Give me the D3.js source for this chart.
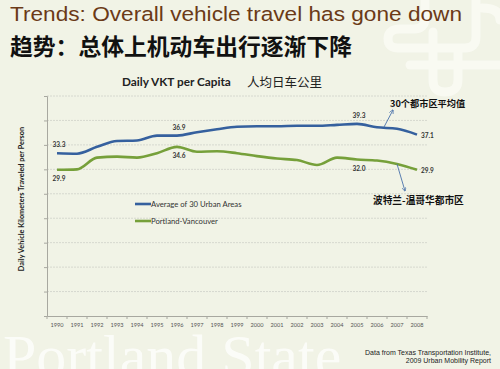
<!DOCTYPE html>
<html><head><meta charset="utf-8">
<script src="https://cdn.jsdelivr.net/npm/d3@7"></script>
<style>
html,body{margin:0;padding:0;background:#f1f3e6;}
svg{display:block;}
</style></head>
<body>
<script>
const years = ["1990","1991","1992","1993","1994","1995","1996","1997","1998","1999","2000","2001","2002","2003","2004","2005","2006","2007","2008"];
const avg30 = [33.3,33.2,34.6,35.8,35.9,36.9,36.9,37.6,38.2,38.7,38.8,38.8,38.9,38.9,39.1,39.3,38.6,38.3,37.1];
const portland = [29.9,30.0,32.4,32.6,32.4,33.3,34.6,33.6,33.7,33.3,32.7,32.2,31.9,30.9,32.4,32.0,31.8,31.1,29.9];
const yTicks = [0,5,10,15,20,25,30,35,40,45];
const avgLabels = [{i:0,t:"33.3"},{i:6,t:"36.9"},{i:15,t:"39.3"},{i:18,t:"37.1"}];
const portLabels = [{i:0,t:"29.9"},{i:6,t:"34.6"},{i:15,t:"32.0"},{i:18,t:"29.9"}];

const W=500,H=369;
const svg=d3.select("body").append("svg").attr("width",W).attr("height",H);
svg.append("rect").attr("width",W).attr("height",H).attr("fill","#f1f3e6");

// PSU logo watermark (top right)
const logo=svg.append("g").attr("fill","none").attr("stroke","#fafbf4").attr("stroke-width",9).attr("opacity",0.9).attr("stroke-linecap","round");
logo.append("path").attr("d","M425,-5 L425,18 Q425,29 414,29 L400,29 Q388,29 388,39 Q388,48 398,48 L465,48 Q476,48 476,37 L476,-5");
logo.append("path").attr("d","M433,32 L433,80 Q433,92 445,92 Q458,92 458,80 L458,50");
logo.append("path").attr("d","M410,65 L505,65");
logo.append("path").attr("d","M482,8 Q500,8 500,20");

// Portland State watermark
svg.append("text").attr("x",3).attr("y",376).attr("font-family","Liberation Serif, serif")
  .attr("font-size",60).attr("fill","#fdfdfa").attr("opacity",0.9).text("Portland State");

// Titles
svg.append("text").attr("x",10).attr("y",21).attr("font-family","Liberation Sans, Arial, sans-serif")
  .attr("font-size",20.5).attr("fill","#6b3a17").attr("textLength",452).attr("lengthAdjust","spacingAndGlyphs")
  .text("Trends: Overall vehicle travel has gone down");
svg.append("text").attr("x",10).attr("y",55).attr("font-family","Noto Sans CJK SC, sans-serif")
  .attr("font-size",22.8).attr("font-weight","bold").attr("fill","#111").text("趋势：总体上机动车出行逐渐下降");

const L=47,R=427,T=96,B=316;
const x=d3.scaleBand().domain(years).range([L,R]);
const cx=d=>x(d)+x.bandwidth()/2;
const y=d3.scaleLinear().domain([0,45]).range([B,T]);

// gridlines
svg.append("g").selectAll("line").data(yTicks.filter(d=>d>0)).join("line")
  .attr("x1",L).attr("x2",R).attr("y1",d=>y(d)).attr("y2",d=>y(d))
  .attr("stroke","#d6d8cf").attr("stroke-width",1).attr("stroke-dasharray","2,1");

// y axis
const ya=svg.append("g").attr("transform",`translate(${L},0)`)
  .call(d3.axisLeft(y).tickValues(yTicks).tickSize(3).tickFormat(""));
ya.select(".domain").attr("stroke","#a8a8a0");
ya.selectAll(".tick line").attr("stroke","#a8a8a0");

// x axis
const xa=svg.append("g").attr("transform",`translate(0,${B})`)
  .call(d3.axisBottom(x).tickSize(0).tickPadding(7));
xa.select(".domain").attr("stroke","#a8a8a0");
xa.selectAll("text").attr("font-family","Lato, sans-serif").attr("font-size",5.6).attr("fill","#555");
svg.append("g").selectAll("line").data(years.concat(["end"])).join("line")
  .attr("x1",(d,i)=>L+i*x.step()).attr("x2",(d,i)=>L+i*x.step())
  .attr("y1",B).attr("y2",B+3).attr("stroke","#a8a8a0");

// chart titles
svg.append("text").attr("x",122).attr("y",86).attr("font-family","Lato, sans-serif").attr("font-weight","bold")
  .attr("font-size",11.8).attr("fill","#222").text("Daily VKT per Capita");
svg.append("text").attr("x",247).attr("y",87).attr("font-family","Noto Sans CJK SC, sans-serif")
  .attr("font-size",12.5).attr("fill","#222").text("人均日车公里");

// y axis title
svg.append("text").attr("transform","translate(24,199) rotate(-90)").attr("text-anchor","middle")
  .attr("font-family","Lato, sans-serif").attr("font-weight","bold").attr("font-size",7.3).attr("fill","#222")
  .text("Daily Vehicle Kilometers Traveled per Person");

// lines
const line=d3.line().x((d,i)=>cx(years[i])).y(d=>y(d)).curve(d3.curveMonotoneX);
svg.append("path").datum(avg30).attr("d",line).attr("fill","none").attr("stroke","#35609e").attr("stroke-width",2.6);
svg.append("path").datum(portland).attr("d",line).attr("fill","none").attr("stroke","#76a03a").attr("stroke-width",2.6);

// data labels
const lab=(arr,vals,dy)=>svg.append("g").selectAll("text").data(arr).join("text")
  .attr("x",d=>d.i===18?cx(years[d.i])+4:cx(years[d.i])+2)
  .attr("y",d=>d.i===18?y(vals[d.i])+3:y(vals[d.i])+dy)
  .attr("text-anchor",d=>d.i===18?"start":"middle")
  .attr("font-family","Lato, sans-serif").attr("font-weight","bold").attr("font-size",6.5).attr("fill","#333")
  .text(d=>d.t);
lab(avgLabels,avg30,-6);
lab(portLabels,portland,11);

// legend
const leg=[{t:"Average of 30 Urban Areas",c:"#35609e",yy:204},{t:"Portland-Vancouver",c:"#76a03a",yy:221}];
leg.forEach(l=>{
  svg.append("line").attr("x1",135).attr("x2",151).attr("y1",l.yy).attr("y2",l.yy).attr("stroke",l.c).attr("stroke-width",2.6);
  svg.append("text").attr("x",151).attr("y",l.yy+2.5).attr("font-family","Lato, sans-serif").attr("font-size",7.7).attr("fill","#333").text(l.t);
});

// annotations
const defs=svg.append("defs");
defs.append("marker").attr("id","ah").attr("viewBox","0 0 10 10").attr("refX",9).attr("refY",5)
  .attr("markerWidth",5).attr("markerHeight",5).attr("orient","auto")
  .append("path").attr("d","M0,0 L10,5 L0,10").attr("fill","none").attr("stroke","#4a72aa").attr("stroke-width",1.5);
svg.append("line").attr("x1",384).attr("y1",127).attr("x2",393).attr("y2",110).attr("stroke","#4a72aa").attr("stroke-width",0.9).attr("marker-end","url(#ah)");
svg.append("line").attr("x1",397).attr("y1",164).attr("x2",405).attr("y2",191).attr("stroke","#4a72aa").attr("stroke-width",0.9).attr("marker-end","url(#ah)");
svg.append("text").attr("x",390).attr("y",107).attr("font-family","Noto Sans CJK SC, sans-serif").attr("font-weight","bold")
  .attr("font-size",9.2).attr("fill","#111").text("30个都市区平均值");
svg.append("text").attr("x",373).attr("y",204).attr("font-family","Noto Sans CJK SC, sans-serif").attr("font-weight","bold")
  .attr("font-size",9.7).attr("fill","#111").text("波特兰-温哥华都市区");

// source
svg.append("text").attr("x",491).attr("y",355).attr("text-anchor","end").attr("font-family","Liberation Sans, Arial, sans-serif")
  .attr("font-size",7).attr("fill","#222").text("Data from Texas Transportation Institute,");
svg.append("text").attr("x",491).attr("y",363).attr("text-anchor","end").attr("font-family","Liberation Sans, Arial, sans-serif")
  .attr("font-size",7).attr("fill","#222").text("2009 Urban Mobility Report");
</script>
</body></html>
